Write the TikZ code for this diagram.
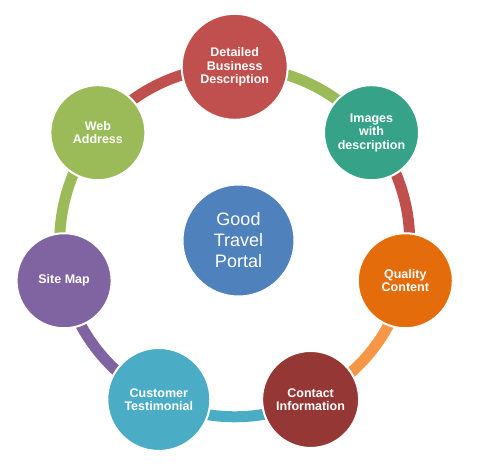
\documentclass[tikz,border=0pt]{standalone}
\usepackage{fontspec}
\setmainfont{Liberation Sans}
\begin{document}
\begin{tikzpicture}[x=1pt,y=1pt,
  bub/.style={circle,draw=white,line width=2pt,inner sep=0pt,text=white,align=center,
    font=\fontsize{12.5}{13.5}\selectfont\bfseries},
  band/.style={line width=11pt}]
\definecolor{cRed}{HTML}{C0504D}
\definecolor{cTeal}{HTML}{36A287}
\definecolor{cOrange}{HTML}{E46C0A}
\definecolor{cLOrange}{HTML}{F79646}
\definecolor{cDRed}{HTML}{953735}
\definecolor{cCyan}{HTML}{4BACC6}
\definecolor{cPurple}{HTML}{8064A2}
\definecolor{cGreen}{HTML}{9BBB59}
\definecolor{cBlue}{HTML}{4F81BD}
\useasboundingbox (0,0) rectangle (478,466);
\coordinate (O) at (234.7,224.2);
\coordinate (p1) at ([shift={(90:175)}]O);
\coordinate (p2) at ([shift={(38.57:175)}]O);
\coordinate (p3) at ([shift={(-12.86:175)}]O);
\coordinate (p4) at ([shift={(-64.29:175)}]O);
\coordinate (p5) at ([shift={(-115.71:175)}]O);
\coordinate (p6) at ([shift={(-167.14:175)}]O);
\coordinate (p7) at ([shift={(141.43:175)}]O);
% bands
\draw[band,cGreen] (p1) arc[start angle=90,end angle=38.57,radius=175];
\draw[band,cRed] (p2) arc[start angle=38.57,end angle=-12.86,radius=175];
\draw[band,cLOrange] (p3) arc[start angle=-12.86,end angle=-64.29,radius=175];
\draw[band,cCyan] (p4) arc[start angle=-64.29,end angle=-115.71,radius=175];
\draw[band,cPurple] (p5) arc[start angle=-115.71,end angle=-167.14,radius=175];
\draw[band,cGreen] (p6) arc[start angle=-167.14,end angle=-218.57,radius=175];
\draw[band,cRed] (p7) arc[start angle=141.43,end angle=90,radius=175];
% bubbles
\node[bub,fill=cRed,minimum size=106pt] (n1) at (p1) {Detailed\\Business\\Description};
\node[bub,fill=cTeal,minimum size=95pt] (n2) at (p2) {Images\\with\\description};
\node[bub,fill=cOrange,minimum size=95pt] (n3) at (p3) {Quality\\Content};
\node[bub,fill=cDRed,minimum size=97pt] (n4) at (p4) {Contact\\Information};
\node[bub,fill=cCyan,minimum size=103pt] (n5) at (p5) {Customer\\Testimonial};
\node[bub,fill=cPurple,minimum size=95pt] (n6) at (p6) {Site Map};
\node[bub,fill=cGreen,minimum size=95pt] (n7) at (p7) {Web\\Address};
\node[circle,fill=cBlue,draw=white,line width=1pt,minimum size=111pt,inner sep=0pt,text=white,align=center,
  font=\fontsize{18}{21}\selectfont] (c) at (238.5,225.5) {Good\\Travel\\Portal};
\end{tikzpicture}
\end{document}
